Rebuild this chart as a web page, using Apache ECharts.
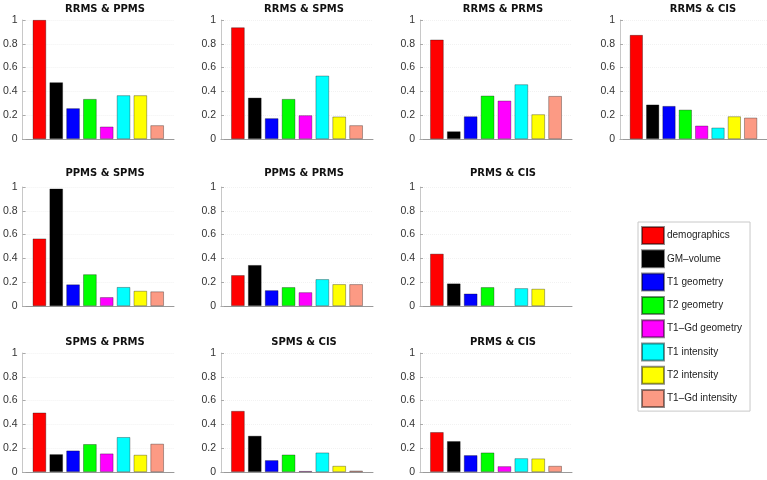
<!DOCTYPE html>
<html>
<head>
<meta charset="utf-8">
<script src="https://cdn.jsdelivr.net/npm/echarts@6/dist/echarts.min.js"></script>
<style>
  html, body { margin: 0; padding: 0; background: #fff; }
  #chart { width: 767px; height: 480px; }
</style>
</head>
<body>
<div id="chart"></div>
<script>
const categories = ['demographics', 'GM–volume', 'T1 geometry', 'T2 geometry', 'T1–Gd geometry', 'T1 intensity', 'T2 intensity', 'T1–Gd intensity']
const colors = ['#ff0000', '#000000', '#0000ff', '#00ff00', '#ff00ff', '#00ffff', '#ffff00', '#fc9a84']
const yTicks = [0, 0.2, 0.4, 0.6, 0.8, 1]

const panelTitles = ['RRMS & PPMS', 'RRMS & SPMS', 'RRMS & PRMS', 'RRMS & CIS', 'PPMS & SPMS', 'PPMS & PRMS', 'PRMS & CIS', 'SPMS & PRMS', 'SPMS & CIS', 'PRMS & CIS']

const rrmsPpms = [1.0, 0.476, 0.258, 0.336, 0.104, 0.367, 0.367, 0.115]
const rrmsSpms = [0.938, 0.347, 0.174, 0.336, 0.199, 0.532, 0.188, 0.115]
const rrmsPrms = [0.835, 0.064, 0.19, 0.364, 0.322, 0.459, 0.207, 0.361]
const rrmsCis = [0.874, 0.289, 0.277, 0.246, 0.112, 0.095, 0.19, 0.179]
const ppmsSpms = [0.567, 0.986, 0.181, 0.266, 0.074, 0.159, 0.127, 0.122]
const ppmsPrms = [0.259, 0.344, 0.132, 0.158, 0.115, 0.225, 0.183, 0.183]
const prmsCisA = [0.439, 0.189, 0.104, 0.158, null, 0.149, 0.144, null]
const spmsPrms = [0.499, 0.149, 0.18, 0.234, 0.155, 0.293, 0.144, 0.237]
const spmsCis = [0.513, 0.304, 0.099, 0.146, 0.008, 0.163, 0.051, 0.011]
const prmsCisB = [0.335, 0.259, 0.141, 0.163, 0.048, 0.115, 0.113, 0.051]

const panelValues = [rrmsPpms, rrmsSpms, rrmsPrms, rrmsCis, ppmsSpms, ppmsPrms, prmsCisA, spmsPrms, spmsCis, prmsCisB]

// panel placement: [column, row]
const panelCells = [[0, 0], [1, 0], [2, 0], [3, 0], [0, 1], [1, 1], [2, 1], [0, 2], [1, 2], [2, 2]]
const colLefts = [22, 221, 420, 620]
const rowTops = [20, 187, 353]
const titleYs = [9, 173, 342]
const gridWidth = 152
const gridHeight = 119

const grid = []
const xAxis = []
const yAxis = []
const series = []
const graphic = []

panelValues.forEach((values, p) => {
  const [c, r] = panelCells[p]
  grid.push({ left: colLefts[c], top: rowTops[r], width: gridWidth, height: gridHeight })
  xAxis.push({
    type: 'value', gridIndex: p, min: 0, max: categories.length + 1,
    axisLine: { show: true, lineStyle: { color: '#9a9a9a', width: 1 } },
    axisTick: { show: false }, axisLabel: { show: false }, splitLine: { show: false }
  })
  yAxis.push({
    type: 'value', gridIndex: p,
    min: yTicks[0], max: yTicks[yTicks.length - 1], interval: yTicks[1] - yTicks[0],
    axisLine: { show: true, lineStyle: { color: '#c8c8c8', width: 1 } },
    axisTick: { show: true, inside: true, length: 3, lineStyle: { color: '#aaa' } },
    axisLabel: { color: '#333', fontSize: 10.5, fontFamily: 'Liberation Sans', margin: 5 },
    splitLine: { show: true, lineStyle: { color: '#f2f2f2', type: 'dotted' } }
  })
  values.forEach((v, i) => {
    series.push({
      type: 'bar',
      name: categories[i],
      xAxisIndex: p,
      yAxisIndex: p,
      barWidth: '80%',
      barGap: '-100%',
      data: v == null ? [] : [[i + 1, v]],
      itemStyle: { color: colors[i], borderColor: 'rgba(0,0,0,0.45)', borderWidth: 0.7 },
      animation: false
    })
  })
  graphic.push({
    type: 'text',
    x: colLefts[c] + 83,
    y: titleYs[r],
    style: {
      text: panelTitles[p],
      align: 'center',
      verticalAlign: 'middle',
      font: 'bold 10px "DejaVu Sans"',
      fill: '#111'
    }
  })
})

const myChart = echarts.init(document.getElementById('chart'), null, { renderer: 'canvas' })

const option = {
  backgroundColor: '#fff',
  animation: false,
  grid,
  xAxis,
  yAxis,
  series,
  graphic,
  legend: {
    data: categories,
    orient: 'vertical',
    left: 638,
    top: 222,
    padding: [4, 8, 3, 3],
    itemWidth: 22,
    itemHeight: 17,
    itemGap: 4.3,
    icon: 'rect',
    selectedMode: false,
    borderColor: '#c8c8c8',
    borderWidth: 1,
    textStyle: { color: '#222', fontSize: 10, fontFamily: 'Liberation Sans', padding: [0, 0, 0, -2] }
  }
}

myChart.setOption(option)
window.addEventListener('resize', myChart.resize)
</script>
</body>
</html>
